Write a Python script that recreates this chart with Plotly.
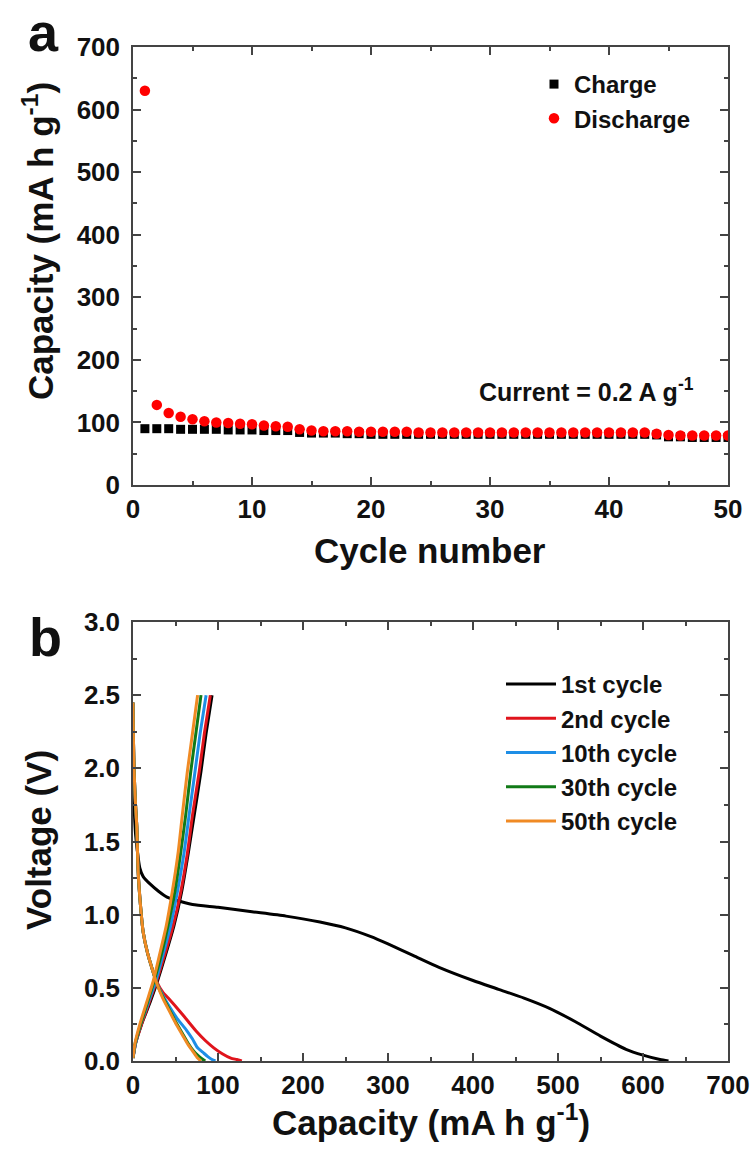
import plotly.graph_objects as go

W, H = 755, 1153

# ---------------- Panel a data ----------------
cycles = list(range(1, 51))
charge_cap = [90, 90, 90, 89, 89, 89, 89, 88, 88, 88,
              87, 87, 87, 84, 83, 83, 83, 82, 82, 81,
              81, 81, 81, 81, 81, 81, 81, 81, 81, 81,
              81, 81, 81, 81, 81, 81, 81, 81, 81, 81,
              81, 81, 81, 80, 77, 77, 76, 76, 76, 76]
discharge_cap = [630, 128, 115, 109, 105, 102, 100, 99, 98, 97,
                 95, 94, 93, 89, 87, 86, 86, 86, 85, 85,
                 85, 85, 85, 84, 84, 84, 84, 84, 84, 84,
                 84, 84, 84, 84, 84, 84, 84, 84, 84, 84,
                 84, 84, 84, 82, 80, 79, 79, 79, 79, 79]

# ---------------- Panel b data ----------------
# charge curves (capacity, voltage)
c1_chg_x = [0, 3, 10, 20, 29, 38, 48, 57, 65, 72, 80, 86, 93]
c1_chg_y = [0.02, 0.12, 0.25, 0.40, 0.55, 0.72, 0.92, 1.15, 1.42, 1.68, 1.98, 2.24, 2.50]
c2_chg_x = [0, 3, 10, 19, 28, 37, 47, 56, 64, 70, 78, 84, 91]
c2_chg_y = [0.02, 0.12, 0.25, 0.40, 0.55, 0.72, 0.92, 1.15, 1.42, 1.68, 1.98, 2.24, 2.50]
c10_chg_x = [0, 3, 9, 18, 27, 35, 44, 52, 60, 66, 73, 79, 86]
c10_chg_y = [0.02, 0.12, 0.25, 0.40, 0.55, 0.72, 0.92, 1.15, 1.42, 1.68, 1.98, 2.24, 2.50]
c30_chg_x = [0, 2.5, 9, 17, 25, 33, 41, 49, 56, 62, 68, 74, 80]
c30_chg_y = [0.02, 0.12, 0.25, 0.40, 0.55, 0.72, 0.92, 1.15, 1.42, 1.68, 1.98, 2.24, 2.50]
c50_chg_x = [0, 2.3, 8, 16, 24, 31, 39, 46, 53, 58, 64, 70, 76]
c50_chg_y = [0.02, 0.12, 0.25, 0.40, 0.55, 0.72, 0.92, 1.15, 1.42, 1.68, 1.98, 2.24, 2.50]

# discharge curves
c1_dis_x = [0, 1, 2, 3, 5, 8, 12, 20, 30, 40, 50, 70, 100, 140, 180, 220,
            250, 280, 300, 330, 360, 400, 430, 460, 490, 520, 550, 580, 600, 620, 630]
c1_dis_y = [1.95, 1.78, 1.65, 1.55, 1.44, 1.32, 1.26, 1.21, 1.16, 1.12, 1.10, 1.07,
            1.05, 1.02, 0.99, 0.95, 0.91, 0.85, 0.80, 0.72, 0.64, 0.55, 0.49, 0.43,
            0.36, 0.27, 0.17, 0.08, 0.04, 0.01, 0.0]
c2_dis_x = [0, 0.5, 1.5, 3, 4.5, 6, 9, 12, 17, 22, 28, 35, 43, 55, 65, 75, 85, 95,
            105, 115, 122, 128]
c2_dis_y = [2.45, 2.2, 1.95, 1.75, 1.6, 1.3, 1.05, 0.88, 0.74, 0.64, 0.54, 0.47, 0.42,
            0.34, 0.27, 0.20, 0.14, 0.09, 0.05, 0.02, 0.01, 0.0]
c10_dis_x = [0, 0.5, 1.5, 3, 4.5, 6, 9, 12, 17, 22, 28, 35, 43, 52, 63, 70, 76, 82,
             88, 93, 97]
c10_dis_y = [2.45, 2.2, 1.95, 1.75, 1.6, 1.3, 1.05, 0.88, 0.74, 0.64, 0.53, 0.45, 0.37,
             0.29, 0.21, 0.15, 0.09, 0.06, 0.03, 0.01, 0.0]
c30_dis_x = [0, 0.5, 1.5, 3, 4.5, 6, 9, 12, 17, 22, 28, 35, 42, 50, 58, 65, 71, 76,
             81, 85]
c30_dis_y = [2.45, 2.2, 1.95, 1.75, 1.6, 1.3, 1.05, 0.88, 0.74, 0.64, 0.53, 0.44, 0.36,
             0.27, 0.19, 0.12, 0.07, 0.04, 0.015, 0.0]
c50_dis_x = [0, 0.5, 1.5, 3, 4.5, 6, 9, 12, 17, 22, 28, 35, 42, 50, 58, 65, 70, 76, 80]
c50_dis_y = [2.45, 2.2, 1.95, 1.75, 1.6, 1.3, 1.05, 0.88, 0.74, 0.64, 0.53, 0.43, 0.35,
             0.26, 0.18, 0.11, 0.07, 0.02, 0.0]

cycle_labels = ["1st cycle", "2nd cycle", "10th cycle", "30th cycle", "50th cycle"]
cycle_colors = ["#000000", "#e0141c", "#1e8ee6", "#117a17", "#f08a24"]

# ---------------- helpers ----------------
def px(x):
    return x / W

def py(y):
    return 1 - y / H

FONT = "Liberation Sans, Arial, sans-serif"
INK = "#111111"

fig = go.Figure()

# Panel a
fig.add_trace(go.Scatter(x=cycles, y=charge_cap, mode="markers", name="Charge",
                         marker=dict(symbol="square", size=9, color="#000000"),
                         xaxis="x", yaxis="y", legend="legend", legendgroup="a1"))
fig.add_trace(go.Scatter(x=cycles, y=discharge_cap, mode="markers", name="Discharge",
                         marker=dict(symbol="circle", size=10.5, color="#ff0000"),
                         xaxis="x", yaxis="y", legend="legend", legendgroup="a2"))

# Panel b
chg = [(c1_chg_x, c1_chg_y), (c2_chg_x, c2_chg_y), (c10_chg_x, c10_chg_y),
       (c30_chg_x, c30_chg_y), (c50_chg_x, c50_chg_y)]
dis = [(c1_dis_x, c1_dis_y), (c2_dis_x, c2_dis_y), (c10_dis_x, c10_dis_y),
       (c30_dis_x, c30_dis_y), (c50_dis_x, c50_dis_y)]
for i, lab in enumerate(cycle_labels):
    col = cycle_colors[i]
    fig.add_trace(go.Scatter(x=dis[i][0], y=dis[i][1], mode="lines", name=lab,
                             line=dict(color=col, width=3, shape="spline", smoothing=0.6),
                             xaxis="x2", yaxis="y2", legend="legend2",
                             legendgroup="b%d" % i))
    fig.add_trace(go.Scatter(x=chg[i][0], y=chg[i][1], mode="lines", name=lab,
                             line=dict(color=col, width=3, shape="spline", smoothing=0.6),
                             xaxis="x2", yaxis="y2", showlegend=False,
                             legendgroup="b%d" % i))

tickfont = dict(family=FONT, size=26, color=INK, weight="bold")
minor_common = dict(ticks="inside", ticklen=4, tickwidth=1.5, tickcolor="#444444")
axis_common = dict(showline=True, linecolor="#444444", linewidth=1.5, mirror="allticks",
                   ticks="inside", ticklen=8, tickwidth=1.5, tickcolor="#444444",
                   showgrid=False, zeroline=False, tickfont=tickfont, automargin=False)

xdom = [px(133), px(728)]
fig.update_layout(
    width=W, height=H,
    margin=dict(l=0, r=0, t=0, b=0, pad=0, autoexpand=False),
    paper_bgcolor="white", plot_bgcolor="white",
    xaxis=dict(domain=xdom, range=[0, 50], dtick=10, tick0=0, anchor="y",
               ticklabelstandoff=0, minor=dict(dtick=5, **minor_common), **axis_common),
    yaxis=dict(domain=[py(485), py(47)], range=[0, 700], dtick=100, tick0=0, anchor="x",
               ticklabelstandoff=6, minor=dict(dtick=50, **minor_common), **axis_common),
    xaxis2=dict(domain=xdom, range=[0, 700], dtick=100, tick0=0, anchor="y2",
                ticklabelstandoff=0, minor=dict(dtick=50, **minor_common), **axis_common),
    yaxis2=dict(domain=[py(1061), py(622)], range=[0, 3], dtick=0.5, tick0=0, anchor="x2",
                ticklabelstandoff=6, tickformat=".1f",
                minor=dict(dtick=0.25, **minor_common), **axis_common),
    legend=dict(x=px(534), y=py(62), xanchor="left", yanchor="top",
                bgcolor="rgba(0,0,0,0)", borderwidth=0, tracegroupgap=0,
                font=dict(family=FONT, size=24, color=INK, weight="bold")),
    legend2=dict(x=px(501), y=py(662), xanchor="left", yanchor="top",
                 bgcolor="rgba(0,0,0,0)", borderwidth=0, tracegroupgap=0, itemwidth=50,
                 font=dict(family=FONT, size=24, color=INK, weight="bold")),
    showlegend=True,
)

ann_font = dict(family=FONT, size=35, color=INK, weight="bold")
annotations = [
    dict(text="a", x=px(43), y=py(32), font=dict(family=FONT, size=54, color=INK, weight="bold")),
    dict(text="b", x=px(45), y=py(637), font=dict(family=FONT, size=54, color=INK, weight="bold")),
    dict(text="Cycle number", x=px(430), y=py(550), font=ann_font),
    dict(text="Capacity (mA h g<sup>-1</sup>)", x=px(431), y=py(1120), font=ann_font),
    dict(text="Capacity (mA h g<sup>-1</sup>)", x=px(38), y=py(241), font=ann_font, textangle=-90),
    dict(text="Voltage (V)", x=px(38), y=py(840), font=ann_font, textangle=-90),
    dict(text="Current = 0.2 A g<sup>-1</sup>", x=px(586), y=py(390),
         font=dict(family=FONT, size=25, color=INK, weight="bold")),
]
for a in annotations:
    a.update(xref="paper", yref="paper", showarrow=False, xanchor="center", yanchor="middle")
fig.update_layout(annotations=annotations)

fig.write_html("out.html", config={"displayModeBar": False},
               post_script="document.body.style.margin='0';")
